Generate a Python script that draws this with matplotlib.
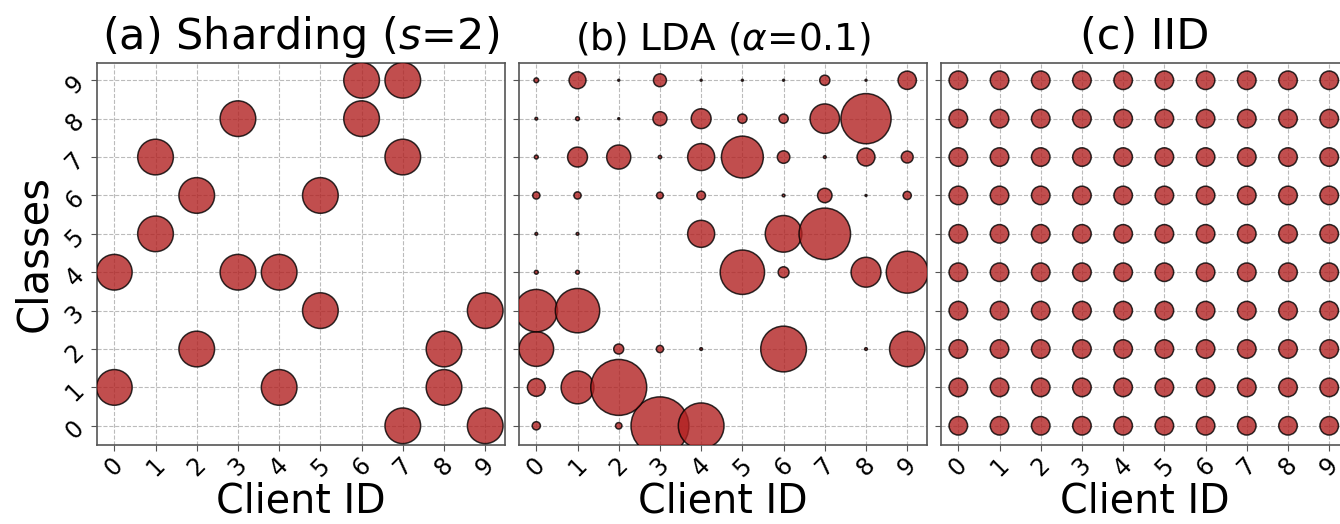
import matplotlib
matplotlib.use("Agg")
import matplotlib.pyplot as plt
import numpy as np

# ---------------- data ----------------
clients = list(range(10))
classes = list(range(10))
tick_labels = [str(i) for i in range(10)]

# (a) Sharding (s=2): classes held by each client
shard_classes = {
    0: [4, 1],
    1: [7, 5],
    2: [6, 2],
    3: [8, 4],
    4: [4, 1],
    5: [6, 3],
    6: [9, 8],
    7: [9, 7, 0],
    8: [2, 1],
    9: [3, 0],
}
shard_count = 342

# (b) LDA (alpha=0.1): relative sample counts, rows = class 0..9, cols = client 0..9
lda_class0 = [18, 0, 11, 900, 562, 0, 0, 0, 0, 0]
lda_class1 = [85, 289, 841, 0, 0, 0, 0, 0, 0, 0]
lda_class2 = [324, 0, 27, 14, 2, 0, 562, 0, 2, 335]
lda_class3 = [484, 529, 0, 0, 0, 0, 0, 0, 0, 0]
lda_class4 = [4, 4, 0, 0, 0, 529, 32, 0, 240, 471]
lda_class5 = [2, 2, 0, 0, 196, 0, 361, 713, 0, 0]
lda_class6 = [14, 14, 0, 12, 20, 0, 2, 56, 1, 18]
lda_class7 = [4, 106, 156, 3, 196, 471, 42, 2, 86, 38]
lda_class8 = [2, 4, 1, 53, 106, 23, 23, 234, 676, 0]
lda_class9 = [6, 77, 1, 45, 1, 1, 1, 28, 1, 90]
lda_rows = [lda_class0, lda_class1, lda_class2, lda_class3, lda_class4,
            lda_class5, lda_class6, lda_class7, lda_class8, lda_class9]

# (c) IID: equal counts everywhere
iid_count = 92

titles = [r"(a) Sharding ($s$=2)", r"(b) LDA ($\alpha$=0.1)", "(c) IID"]
title_sizes = [31, 27, 31]

# ---------------- style ----------------
SIZE_SCALE = 2.0736 * 0.93
FACE = "firebrick"
ALPHA = 0.8

fig = plt.figure(figsize=(13.4, 5.24), dpi=100)
W, H = 1340.0, 524.0
ax_w = 408 / W
bottom = 79 / H
height = 382 / H
lefts = [97 / W, 519 / W, 941 / W]
axes = [fig.add_axes([l, bottom, ax_w, height]) for l in lefts]


def scatter_cells(ax, xs, ys, counts):
    xs = np.asarray(xs)
    ys = np.asarray(ys)
    counts = np.asarray(counts, dtype=float)
    keep = counts > 0
    ax.scatter(xs[keep], ys[keep], s=counts[keep] * SIZE_SCALE, c=FACE,
               alpha=ALPHA, edgecolors="black", linewidths=1.1, zorder=3)


# (a)
xa, ya, ca = [], [], []
for c in clients:
    for k in shard_classes[c]:
        xa.append(c)
        ya.append(k)
        ca.append(shard_count)
scatter_cells(axes[0], xa, ya, ca)

# (b)
xb, yb, cb = [], [], []
for k, row in enumerate(lda_rows):
    for c, v in enumerate(row):
        xb.append(c)
        yb.append(k)
        cb.append(v)
scatter_cells(axes[1], xb, yb, cb)

# (c)
xc, yc, cc = [], [], []
for k in classes:
    for c in clients:
        xc.append(c)
        yc.append(k)
        cc.append(iid_count)
scatter_cells(axes[2], xc, yc, cc)

for i, ax in enumerate(axes):
    ax.set_xlim(-0.42, 9.48)
    ax.set_ylim(-0.5, 9.45)
    ax.set_xticks(clients)
    ax.set_xticklabels(tick_labels, rotation=45, fontsize=17)
    ax.set_yticks(classes)
    if i == 0:
        ax.set_yticklabels(tick_labels, rotation=45, fontsize=17)
        ax.set_ylabel("Classes", fontsize=30, labelpad=4)
    else:
        ax.set_yticklabels([])
        ax.tick_params(axis="y", length=0)
    ax.set_xlabel("Client ID", fontsize=28.5, labelpad=0)
    ax.set_title(titles[i], fontsize=title_sizes[i], pad=10)
    ax.grid(True, linestyle="--", color="#bbbbbb", linewidth=0.8, zorder=0)
    ax.set_axisbelow(True)
    for sp in ax.spines.values():
        sp.set_color("#555555")
        sp.set_linewidth(1.2)
    ax.tick_params(axis="both", color="#555555", length=4, pad=2)

fig.savefig("out.png", dpi=100)
